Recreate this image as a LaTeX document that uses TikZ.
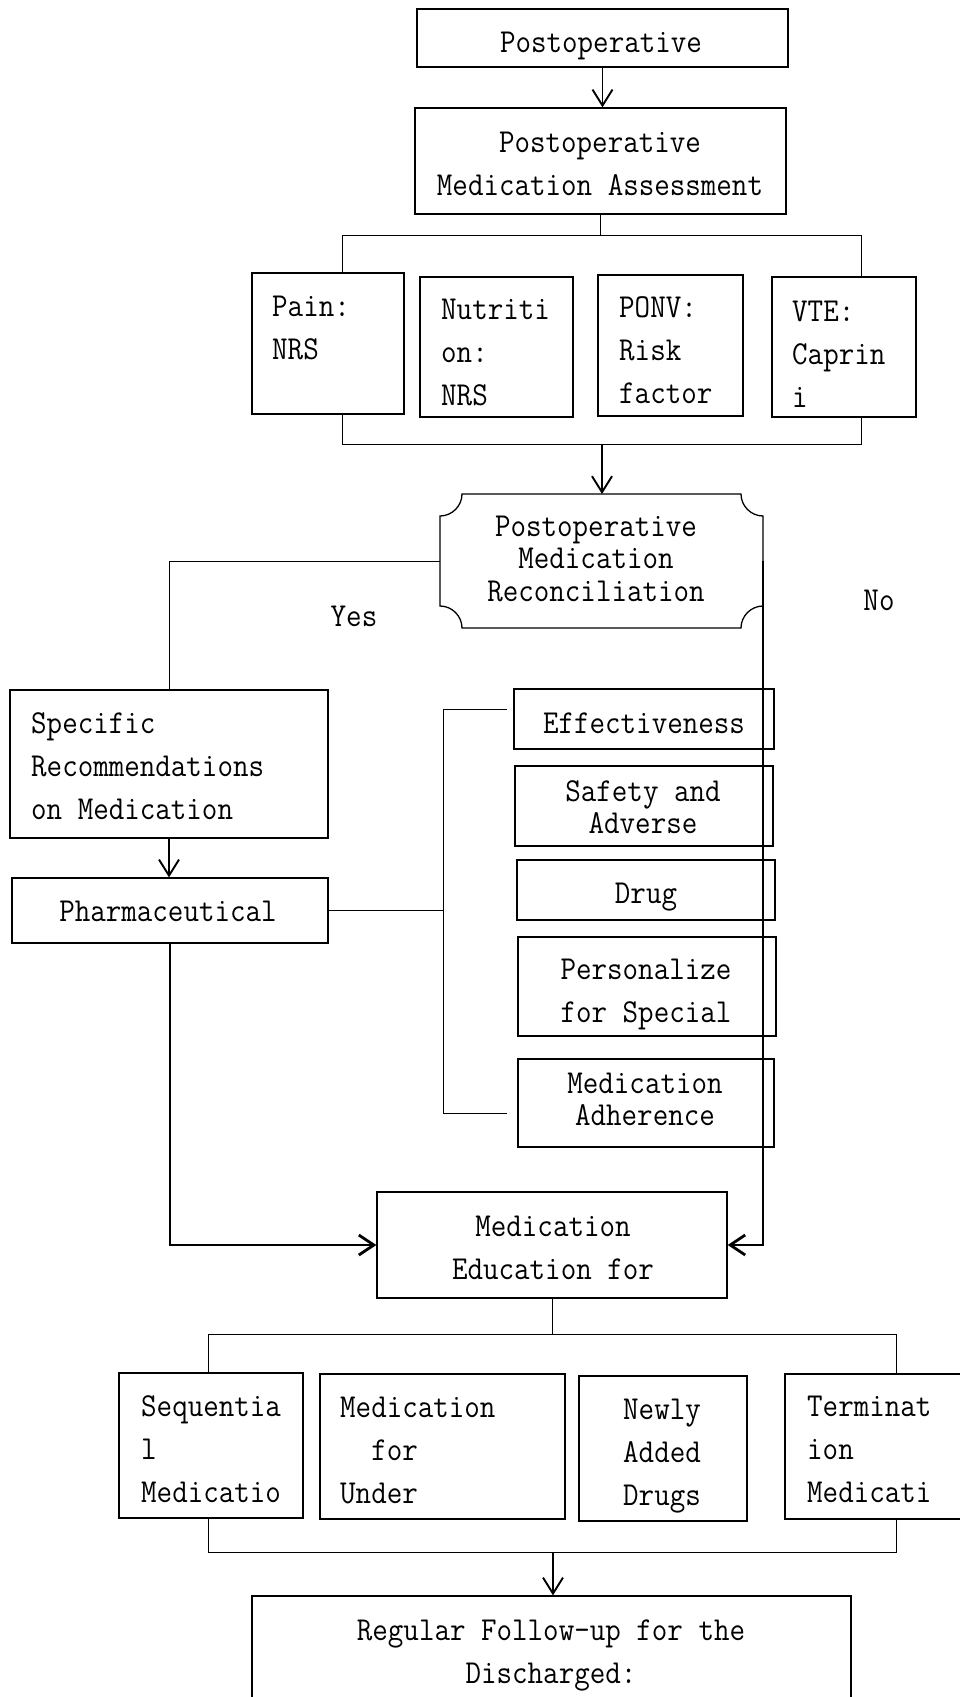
\documentclass[tikz,border=0pt]{standalone}
\usepackage{fontspec}
\setmainfont{Latin Modern Mono}[FakeStretch=0.9]
\usetikzlibrary{arrows.meta}
\newcommand\tl[1]{\begin{tabular}[t]{@{}l@{}}#1\end{tabular}}
\newcommand\tc[1]{\begin{tabular}[t]{@{}c@{}}#1\end{tabular}}
\begin{document}
\begin{tikzpicture}[x=1pt,y=-1pt,
  box/.style={draw, line width=1.3pt, inner sep=0pt},
  ghost/.style={inner sep=0pt, outer sep=0pt},
  txt/.style={inner sep=0pt, font=\fontsize{33.5}{43}\selectfont},
  txtt/.style={inner sep=0pt, font=\fontsize{33.5}{32.5}\selectfont},
  ln/.style={line width=1pt},
  arr/.style={line width=1.9pt, -{Straight Barb[length=16pt,width=20pt]}},
  thk/.style={line width=2.8pt, -{Straight Barb[length=15pt,width=20pt]}}]
\fill[white] (0,0) rectangle (959,1697);
\useasboundingbox (0,0) rectangle (959,1697);

% boxes
\node[box, minimum width=371pt, minimum height=58pt] (b1) at (602.5,38) {};
\node[box, minimum width=371pt, minimum height=106pt] (b2) at (600.5,161) {};
\node[box, minimum width=152pt, minimum height=141pt] (pain) at (328,343.5) {};
\node[box, minimum width=153pt, minimum height=140pt] (nutr) at (496.5,347) {};
\node[box, minimum width=145pt, minimum height=141pt] (ponv) at (670.5,345.5) {};
\node[box, minimum width=144pt, minimum height=140pt] (vte) at (844,347) {};
\node[ghost, minimum width=323pt, minimum height=134pt] (rec) at (601.5,561) {};
\node[box, minimum width=318pt, minimum height=148pt] (spec) at (169,764) {};
\node[box, minimum width=316pt, minimum height=65pt] (pharm) at (170,910.5) {};
\node[box, minimum width=260pt, minimum height=60pt] (eff) at (644,719) {};
\node[box, minimum width=258pt, minimum height=80pt] (safe) at (644,806) {};
\node[box, minimum width=258pt, minimum height=60pt] (drug) at (646,890) {};
\node[box, minimum width=258pt, minimum height=99pt] (pers) at (647,986.5) {};
\node[box, minimum width=256pt, minimum height=88pt] (adh) at (646,1103) {};
\node[box, minimum width=350pt, minimum height=106pt] (edu) at (552,1245) {};
\node[box, minimum width=184pt, minimum height=145pt] (seq) at (211,1445.5) {};
\node[box, minimum width=245pt, minimum height=145pt] (under) at (442.5,1446.5) {};
\node[box, minimum width=168pt, minimum height=145pt] (newly) at (663,1448.5) {};
\node[box, minimum width=200pt, minimum height=145pt] (term) at (885,1446.5) {};
\node[box, minimum width=599pt, minimum height=164pt] (reg) at (551.5,1678) {};

% reconciliation shape (concave corners)
\draw[line width=1.3pt] (462,494) -- (741,494)
  .. controls (741,506) and (751,516) .. (763,516) -- (763,606)
  .. controls (751,606) and (741,616) .. (741,628) -- (462,628)
  .. controls (462,616) and (452,606) .. (440,606) -- (440,516)
  .. controls (452,516) and (462,506) .. (462,494) -- cycle;

% texts
\node[txt, anchor=base] (t1) at (601,52) {\tc{Postoperative}};
\node[txt, anchor=base] (t2) at (600,152) {\tc{Postoperative\\Medication Assessment}};
\node[txt, anchor=base west] (tpain) at (272,316) {\tl{Pain:\\NRS}};
\node[txt, anchor=base west] (tnutr) at (441,319) {\tl{Nutriti\\on:\\NRS}};
\node[txt, anchor=base west] (tponv) at (619,317) {\tl{PONV:\\Risk\\factor}};
\node[txt, anchor=base west] (tvte) at (792,321) {\tl{VTE:\\Caprin\\i}};
\node[txtt, anchor=base] (trec) at (596,536) {\tc{Postoperative\\Medication\\Reconciliation}};
\node[txt, anchor=base] (tyes) at (354,626) {Yes};
\node[txt, anchor=base] (tno) at (879,610) {No};
\node[txt, anchor=base west] (tspec) at (31,733) {\tl{Specific\\Recommendations\\on Medication}};
\node[txt, anchor=base] (tpharm) at (168,921) {\tc{Pharmaceutical}};
\node[txt, anchor=base] (teff) at (644,733) {\tc{Effectiveness}};
\node[txtt, anchor=base] (tsafe) at (643,801) {\tc{Safety and\\Adverse}};
\node[txt, anchor=base] (tdrug) at (646,903) {\tc{Drug}};
\node[txt, anchor=base] (tpers) at (646,979) {\tc{Personalize\\for Special}};
\node[txtt, anchor=base] (tadh) at (645,1093) {\tc{Medication\\Adherence}};
\node[txt, anchor=base] (tedu) at (553,1236) {\tc{Medication\\Education for}};
\node[txt, anchor=base west] (tseq) at (141,1416) {\tl{Sequentia\\l\\Medicatio}};
\node[txt, anchor=base west] (tunder) at (340,1417) {\tl{Medication\\\phantom{MM}for\\Under}};
\node[txt, anchor=base west] (tnewly) at (623,1419) {\tl{Newly\\Added\\Drugs}};
\node[txt, anchor=base west] (tterm) at (807,1416) {\tl{Terminat\\ion\\Medicati}};
\node[txt, anchor=base] (treg) at (551,1640) {\tc{Regular Follow-up for the\\Discharged:}};

% helper coordinates
\coordinate (bl) at (342,235);
\coordinate (br) at (861,235);
\coordinate (cl) at (342,444);
\coordinate (cr) at (861,444);
\coordinate (cm) at (602,444);
\coordinate (kt) at (443,709);
\coordinate (ktE) at (507,709);
\coordinate (kb) at (443,1113);
\coordinate (kbE) at (507,1113);
\coordinate (dl) at (208,1334);
\coordinate (dr) at (896,1334);
\coordinate (el) at (208,1552);
\coordinate (er) at (896,1552);
\coordinate (em) at (553,1552);

% connectors
\draw[arr] (b1.south) -- (b1.south |- b2.north);
\draw[ln] (b2.south) -- (b2.south |- bl);
\draw[ln] (bl |- pain.north) -- (bl) -- (br) -- (br |- vte.north);
\draw[ln] (cl |- pain.south) -- (cl) -- (cr) -- (cr |- vte.south);
\draw[arr] (cm) -- (cm |- rec.north);
\draw[ln] (rec.west) -| (spec.north);
\draw[arr] (spec.south) -- (spec.south |- pharm.north);
\draw[ln] (pharm.east) -- (pharm.east -| kt);
\draw[ln] (ktE) -- (kt) -- (kb) -- (kbE);
\draw[thk] (pharm.south) |- (edu.west);
\draw[thk] (rec.east) |- (edu.east);
\draw[ln] (edu.south) -- (edu.south |- dl);
\draw[ln] (dl |- seq.north) -- (dl) -- (dr) -- (dr |- term.north);
\draw[ln] (el |- seq.south) -- (el) -- (er) -- (er |- term.south);
\draw[arr] (em) -- (em |- reg.north);
\end{tikzpicture}
\end{document}
